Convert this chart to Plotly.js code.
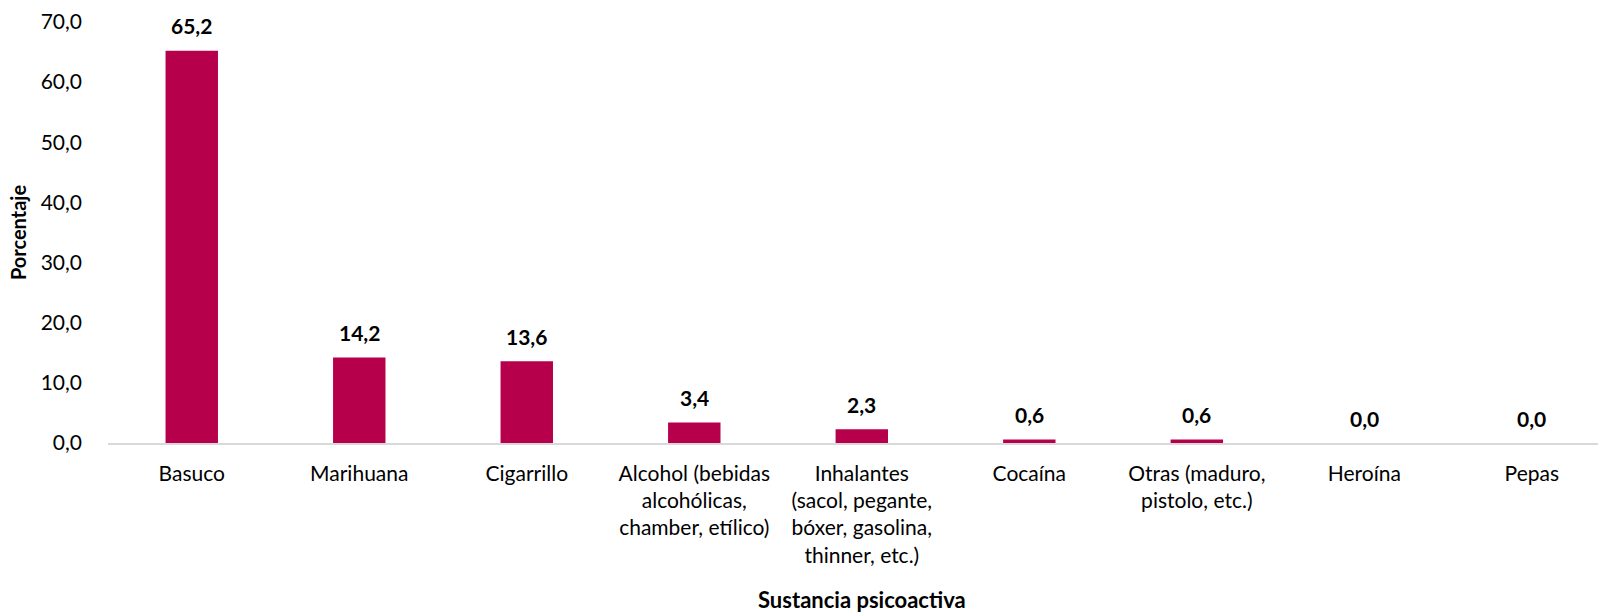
<!DOCTYPE html>
<html>
<head>
<meta charset="utf-8">
<script src="https://cdn.plot.ly/plotly-3.0.1.min.js"></script>
<style>html,body{margin:0;padding:0;background:#fff;}#chart{width:1598px;height:613px;}</style>
</head>
<body>
<div id="chart"></div>
<script>
const categories = [
  "Basuco",
  "Marihuana",
  "Cigarrillo",
  "Alcohol (bebidas<br>alcohólicas,<br>chamber, etílico)",
  "Inhalantes<br>(sacol, pegante,<br>bóxer, gasolina,<br>thinner, etc.)",
  "Cocaína",
  "Otras (maduro,<br>pistolo, etc.)",
  "Heroína",
  "Pepas"
];
const values = [65.2, 14.2, 13.6, 3.4, 2.3, 0.6, 0.6, 0.0, 0.0];
const valueLabels = ["65,2", "14,2", "13,6", "3,4", "2,3", "0,6", "0,6", "0,0", "0,0"];
const yTickVals = [0, 10, 20, 30, 40, 50, 60, 70];
const yTickText = ["0,0", "10,0", "20,0", "30,0", "40,0", "50,0", "60,0", "70,0"];
const xTitle = "Sustancia psicoactiva";
const yTitle = "Porcentaje";

const FONT = "Lato, 'Open Sans', sans-serif";
const idx = categories.map((_, i) => i);

const trace = {
  type: "bar",
  x: idx,
  y: values,
  width: 0.313,
  marker: { color: "#B7004B" },
  hoverinfo: "skip"
};

const annotations = idx.map(i => ({
  x: i, y: values[i], xref: "x", yref: "y",
  text: "<b>" + valueLabels[i] + "</b>",
  showarrow: false, yanchor: "middle", yshift: 25,
  font: { family: FONT, size: 21, color: "#000" }
}));
annotations.push({
  x: 4, y: 0, xref: "x", yref: "paper",
  text: "<b>" + xTitle + "</b>",
  showarrow: false, yanchor: "middle", yshift: -156,
  font: { family: FONT, size: 22, color: "#000" }
});

const layout = {
  width: 1598, height: 613,
  margin: { l: 108, r: 0, t: 22, b: 170, pad: 0 },
  paper_bgcolor: "#fff", plot_bgcolor: "#fff",
  showlegend: false,
  font: { family: FONT, size: 21, color: "#000" },
  xaxis: {
    range: [-0.5, 8.395],
    tickmode: "array", tickvals: idx, ticktext: categories,
    showgrid: false, zeroline: false,
    showline: true, linecolor: "#D9D9D9", linewidth: 1.5,
    ticks: "", ticklabelstandoff: 11,
    tickfont: { family: FONT, size: 21, color: "#000" },
    tickangle: 0
  },
  yaxis: {
    range: [0, 70],
    tickmode: "array", tickvals: yTickVals, ticktext: yTickText,
    showgrid: false, zeroline: false, showline: false,
    ticks: "", ticklabelstandoff: 25,
    tickfont: { family: FONT, size: 21, color: "#000" },
    title: { text: "<b>" + yTitle + "</b>", font: { family: FONT, size: 20, color: "#000" }, standoff: 8 }
  },
  annotations: annotations
};

Plotly.newPlot("chart", [trace], layout, { displayModeBar: false, staticPlot: true });
</script>
</body>
</html>
